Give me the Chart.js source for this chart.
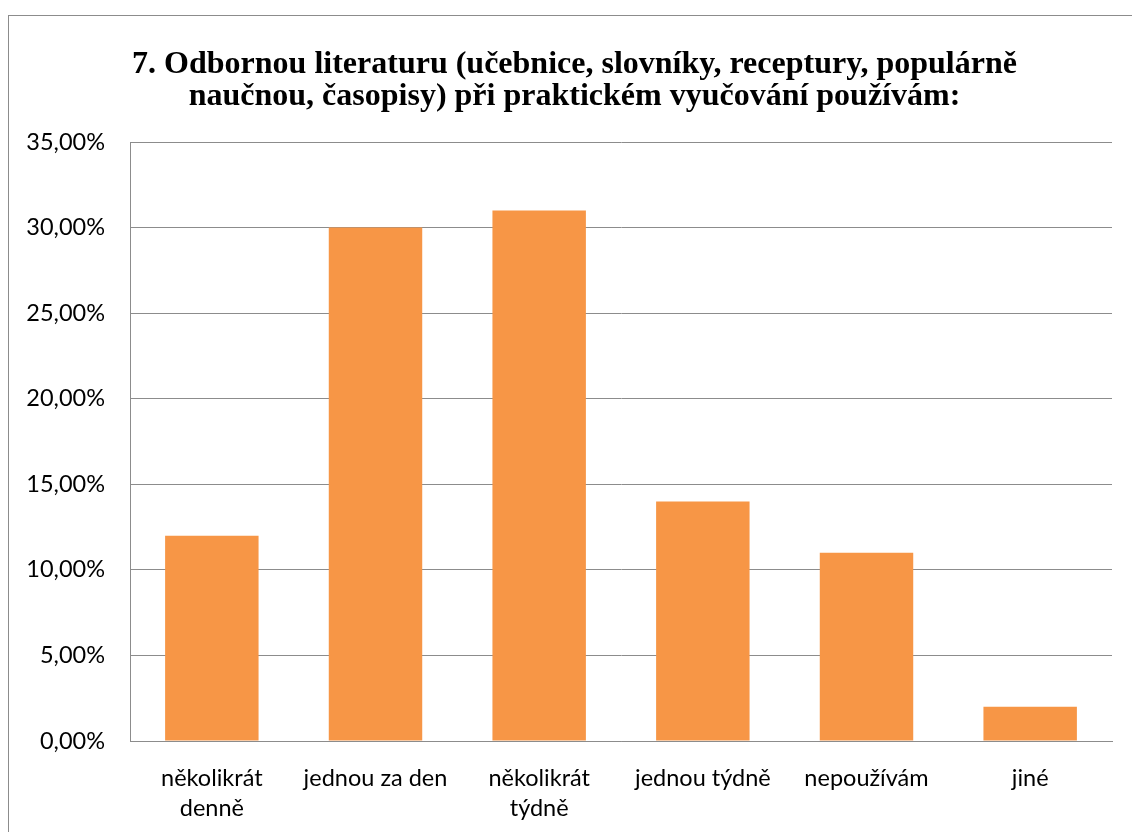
<!DOCTYPE html>
<html>
<head>
<meta charset="utf-8">
<script src="https://cdn.jsdelivr.net/npm/chart.js@4"></script>
<style>
	html, body { margin: 0; padding: 0; background: #fff; overflow: hidden; }
	#frame {
		position: absolute; left: 8px; top: 15px;
		width: 1140px; height: 830px;
		border-left: 1px solid #8c8c8c; border-top: 1px solid #8c8c8c;
	}
	#wrap { position: absolute; left: 0; top: 0; width: 1123px; height: 816px; }
</style>
</head>
<body>
<div id="frame"><div id="wrap"><canvas id="chart"></canvas></div></div>
<script>
// chart data
const categories = [
	["několikrát", "denně"],
	"jednou za den",
	["několikrát", "týdně"],
	"jednou týdně",
	"nepoužívám",
	"jiné"
];
const values = [12, 30, 31, 14, 11, 2];
const titleLines = [
	"7. Odbornou literaturu (učebnice, slovníky, receptury, populárně",
	"naučnou, časopisy) při praktickém vyučování používám:"
];

const tickFont = { family: "Lato, 'Liberation Sans', sans-serif", size: 23.5, lineHeight: 1.3 };
const gridColor = "#8c8c8c";

// nudge the title box a little to the right, like in the original
const shiftTitle = {
	id: "shiftTitle",
	afterLayout(chart) {
		const t = chart.titleBlock;
		if (t) { t.left += 14; t.right += 14; }
	}
};

new Chart(document.getElementById("chart"), {
	type: "bar",
	data: {
		labels: categories,
		datasets: [{
			data: values,
			backgroundColor: "#F79646",
			categoryPercentage: 1,
			barPercentage: 0.571
		}]
	},
	plugins: [shiftTitle],
	options: {
		responsive: true,
		maintainAspectRatio: false,
		animation: false,
		layout: { padding: { left: 0, right: 20, top: 0, bottom: 0 } },
		plugins: {
			legend: { display: false },
			tooltip: { enabled: false },
			title: {
				display: true,
				text: titleLines,
				color: "#000",
				font: { family: "'Liberation Serif', 'Times New Roman', serif", size: 32, weight: "bold", lineHeight: 1.0 },
				padding: { top: 33, bottom: 29 }
			}
		},
		scales: {
			x: {
				grid: { display: false },
				border: { display: true, color: gridColor, width: 1 },
				ticks: { color: "#000", font: tickFont, padding: 14, maxRotation: 0, autoSkip: false },
				afterFit: (scale) => { scale.height = 91; }
			},
			y: {
				min: 0,
				max: 35,
				grid: { color: gridColor, drawTicks: false, lineWidth: 1 },
				border: { display: true, color: gridColor, width: 1 },
				ticks: {
					stepSize: 5,
					color: "#000",
					font: { family: tickFont.family, size: 23.5 },
					padding: 25,
					callback: (v) => v.toFixed(2).replace(".", ",") + "%"
				},
				afterFit: (scale) => { scale.width = 121; }
			}
		}
	}
});
</script>
</body>
</html>
